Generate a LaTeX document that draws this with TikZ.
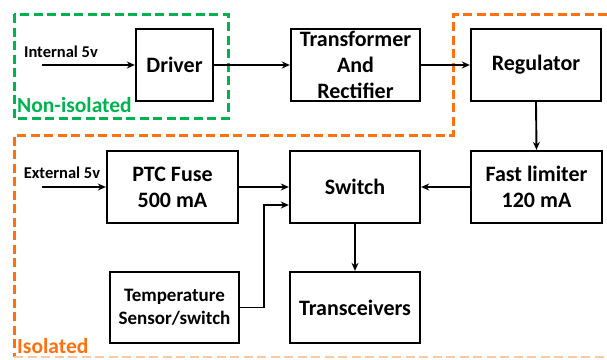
\documentclass[tikz,border=0pt]{standalone}
\usepackage{fontspec}
\setmainfont{Carlito}
\usetikzlibrary{arrows.meta,calc}
\definecolor{isogreen}{RGB}{0,178,80}
\definecolor{isoorange}{RGB}{255,112,16}
\definecolor{isoorangelight}{RGB}{255,200,160}
\begin{document}
\begin{tikzpicture}[x=1pt,y=-1pt,
  blk/.style={draw=black,line width=2.3pt,inner sep=0pt,align=center,
    font=\fontsize{22}{26}\selectfont\bfseries},
  conn/.style={line width=1.9pt,-{Stealth[length=8pt,width=7pt]}},
  lbl/.style={font=\fontsize{16.5}{18}\selectfont\bfseries,inner sep=0pt},
  zone/.style={line width=3pt,dash pattern=on 9pt off 4.5pt}]
\useasboundingbox (0,0) rectangle (607,359);
% zones
\draw[zone,isogreen] (14,14) rectangle (228,118);
\draw[zone,isoorange] (607,14) -- (453,14) -- (453,135) -- (14,135) -- (14,357);
\draw[zone,isoorangelight,line width=1.8pt] (14,357) -- (607,357);
\node[anchor=west,inner sep=0pt,text=isogreen,font=\fontsize{21.5}{24}\selectfont\bfseries] (noniso) at (17,105) {Non-isolated};
\node[anchor=west,inner sep=0pt,text=isoorange,font=\fontsize{21.5}{24}\selectfont\bfseries] (iso) at (17,346) {Isolated};
% blocks
\node[blk,minimum width=77pt,minimum height=72pt] (drv) at (174.5,65) {Driver};
\node[blk,minimum width=129pt,minimum height=72pt] (tr) at (355.5,65) {Transformer\\And\\Rectifier};
\node[blk,minimum width=130pt,minimum height=72pt] (reg) at (536,65) {Regulator};
\node[blk,minimum width=131pt,minimum height=72pt] (fl) at (536.5,187) {Fast limiter\\120 mA};
\node[blk,minimum width=130pt,minimum height=72pt] (sw) at (355,187) {Switch};
\node[blk,minimum width=131pt,minimum height=72pt] (ptc) at (172.5,187) {PTC Fuse\\500 mA};
\node[blk,minimum width=129pt,minimum height=71pt,font=\fontsize{19}{23}\selectfont\bfseries] (temp) at (174.5,307.5) {Temperature\\Sensor/switch};
\node[blk,minimum width=130pt,minimum height=71pt] (trx) at (355,307.5) {Transceivers};
% inputs
\node[lbl] (int5) at (61,52) {Internal 5v};
\node[lbl] (ext5) at (62,173) {External 5v};
\coordinate (intstart) at (42,65);
\coordinate (extstart) at (42,187);
% connectors
\draw[conn] (intstart) -- (drv.west);
\draw[conn] (extstart) -- (ptc.west);
\draw[conn] (drv.east) -- (tr.west);
\draw[conn] (tr.east) -- (reg.west);
\draw[conn] (reg.south) -- (fl.north);
\draw[conn] (fl.west) -- (sw.west -| sw.east);
\draw[conn] (ptc.east) -- (sw.west);
\draw[conn] (temp.east) -- ++(24,0) |- ([yshift=-18pt]sw.west);
\draw[conn] (sw.south) -- (trx.north);
\end{tikzpicture}
\end{document}
